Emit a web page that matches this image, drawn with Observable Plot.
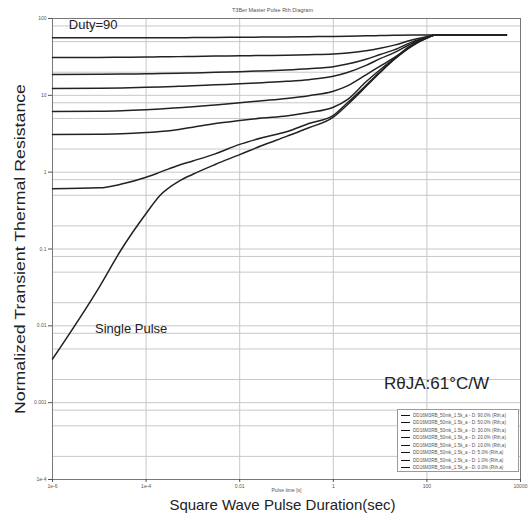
<!DOCTYPE html>
<html>
<head>
<meta charset="utf-8">
<script src="https://cdn.jsdelivr.net/npm/d3@7"></script>
<script src="https://cdn.jsdelivr.net/npm/@observablehq/plot@0.6"></script>
<style>
  body { margin: 0; background: #fff; }
  #chart { position: relative; width: 528px; height: 522px; font-family: "Liberation Sans", Arial, sans-serif; }
  .legend { position: absolute; left: 397px; top: 409px; width: 122px; height: 63px; box-sizing: border-box;
            border: 1px solid #999; background: #fff; padding: 1.5px 3px; }
  .legend .row { display: flex; align-items: center; height: 7.5px; font-size: 4.6px; color: #555; white-space: nowrap; }
  .legend .sw { display: inline-block; width: 9px; height: 0; border-top: 1.5px solid #111; margin-right: 3px; flex: none; }
</style>
</head>
<body>
<div id="chart"></div>
<script>
// Pulse durations (s) at which each curve was sampled
const pulseTime = [1e-6, 1e-5, 3e-5, 1e-4, 2e-4, 5e-4, 1e-3, 3e-3, 1e-2, 3e-2, 0.1, 0.3, 1, 2, 5, 10, 20, 50, 100, 150, 5000];

// Transient thermal resistance (°C/W) per duty cycle
const duty90 = [56, 56, 56, 56, 56.1, 56.3, 56.4, 56.6, 57, 57.3, 57.6, 58, 58.4, 58.8, 59.5, 60, 60.5, 61, 61, 61, 61];
const duty50 = [31, 31.1, 31.3, 31.5, 31.7, 31.9, 32.1, 32.4, 32.7, 33, 33.3, 33.8, 34.5, 35.5, 38, 41, 45, 53, 58, 61, 61];
const duty30 = [18.7, 18.8, 18.9, 19.1, 19.2, 19.4, 19.6, 19.9, 20.3, 20.8, 21.4, 22.2, 23.5, 25.5, 29.5, 34, 39, 50, 57, 61, 61];
const duty20 = [12.3, 12.4, 12.5, 12.7, 12.85, 13.1, 13.3, 13.7, 14.1, 14.6, 15.2, 16.0, 17.7, 19.8, 24.5, 30, 36, 48, 56.5, 61, 61];
const duty10 = [6.15, 6.2, 6.3, 6.5, 6.65, 6.9, 7.1, 7.5, 8.0, 8.5, 9.1, 9.9, 11.3, 13.3, 18.5, 24, 31, 46, 56, 61, 61];
const duty5  = [3.09, 3.12, 3.16, 3.28, 3.38, 3.6, 3.85, 4.3, 4.7, 5.06, 5.4, 5.97, 7.0, 8.8, 15, 21.5, 30, 45, 56, 61, 61];
const duty1  = [0.61, 0.625, 0.7, 0.86, 1.0, 1.23, 1.4, 1.73, 2.3, 2.8, 3.35, 4.3, 5.5, 8.0, 13.5, 20.2, 29.5, 45, 56, 61, 61];
const singlePulse = [0.0037, 0.032, 0.1, 0.29, 0.5, 0.76, 0.94, 1.26, 1.69, 2.22, 2.92, 3.78, 5.2, 7.55, 13.0, 19.8, 29.3, 44.5, 55.5, 61, 61];

const dutyLabels = ["90.0%", "50.0%", "30.0%", "20.0%", "10.0%", "5.0%", "1.0%", "0.0%"];
const seriesValues = [duty90, duty50, duty30, duty20, duty10, duty5, duty1, singlePulse];

// Axis ticks
const xTicks = [1e-6, 1e-4, 1e-2, 1, 100, 1e4];
const xTickLabels = ["1e-6", "1e-4", "0.01", "1", "100", "10000"];
const yTicks = [1e-4, 1e-3, 1e-2, 0.1, 1, 10, 100];
const yTickLabels = ["1e-4", "0.001", "0.01", "0.1", "1", "10", "100"];
const gridMantissa = [1, 2, 5, 8];

const titleText = "T3Ber Master Pulse Rth Diagram";
const xSmallLabel = "Pulse time [s]";
const xLabel = "Square Wave Pulse Duration(sec)";
const yLabel = "Normalized Transient Thermal Resistance";
const deviceTag = "DD16M3RB_50mk_1.5k_a - D:";

// Long-format rows for the line mark
const rows = seriesValues.flatMap((vals, s) =>
  pulseTime.map((t, i) => ({ series: dutyLabels[s], t, z: vals[i] })));

// Horizontal grid levels inside the y domain
const yGrid = yTicks.flatMap(p => gridMantissa.map(m => m * p)).filter(v => v <= 100);

const notes = [
  { text: "Duty=90", t: 7.4e-6, z: 82, size: 13 },
  { text: "Single Pulse", t: 4.8e-5, z: 0.0092, size: 13 },
  { text: "R\u03B8JA:61\u00B0C/W", t: 160, z: 0.00177, size: 17 }
];

const font = "'Liberation Sans', Arial, sans-serif";
const fmtX = d => xTickLabels[xTicks.indexOf(d)];
const fmtY = d => yTickLabels[yTicks.indexOf(d)];

const chart = Plot.plot({
  width: 528,
  height: 522,
  marginTop: 18,
  marginBottom: 43,
  marginLeft: 52,
  marginRight: 8,
  style: { fontFamily: font, background: "#fff", overflow: "visible" },
  x: { type: "log", domain: [1e-6, 1e4] },
  y: { type: "log", domain: [1e-4, 100] },
  marks: [
    Plot.gridY(yGrid, { stroke: "#c8c8c8", strokeOpacity: 1, strokeWidth: 1 }),
    Plot.gridX(xTicks, { stroke: "#c8c8c8", strokeOpacity: 1, strokeWidth: 1 }),
    Plot.frame({ stroke: "#777", strokeWidth: 1 }),
    Plot.axisX(xTicks, { tickFormat: fmtX, tickSize: 3, tickPadding: 2,
                 fontSize: 5, color: "#555", label: null }),
    Plot.axisY(yTicks, { tickFormat: fmtY, tickSize: 4, tickPadding: 2,
                 fontSize: 5, color: "#555", label: null }),
    Plot.line(rows, { x: "t", y: "z", z: "series", stroke: "#222", strokeWidth: 1.5, curve: "monotone-x" }),
    Plot.text([titleText], { frameAnchor: "top", dx: -14, dy: -10, fontSize: 5.5, fill: "#555" }),
    Plot.text([xSmallLabel], { frameAnchor: "bottom", dy: 12, fontSize: 5, fill: "#555" }),
    Plot.text([xLabel], { frameAnchor: "bottom", dx: -4, dy: 30, fontSize: 15, fill: "#222" }),
    Plot.text([yLabel], { frameAnchor: "left", dx: -32, rotate: -90, textAnchor: "middle", fontSize: 15,
                          fill: "#222", className: "ylabel" }),
    Plot.text(notes, { x: "t", y: "z", text: "text", fontSize: d => d.size, fill: "#222", className: "note" })
  ]
});

const host = document.getElementById("chart");
host.appendChild(chart);

// Stretch the vertical title along the axis
d3.select(chart).selectAll("g.ylabel text")
  .attr("textLength", 330).attr("lengthAdjust", "spacingAndGlyphs");

// White panels behind the annotations so grid lines stop at the label
d3.select(chart).selectAll("g.note text").each(function () {
  const b = this.getBBox();
  d3.select(this.parentNode).insert("rect", () => this)
    .attr("x", b.x - 12).attr("y", b.y - 2)
    .attr("width", b.width + 24).attr("height", b.height + 4)
    .attr("fill", "#fff");
});

// Legend box
const legend = document.createElement("div");
legend.className = "legend";
dutyLabels.forEach(lbl => {
  const row = document.createElement("div");
  row.className = "row";
  const sw = document.createElement("span");
  sw.className = "sw";
  row.appendChild(sw);
  row.appendChild(document.createTextNode(`${deviceTag} ${lbl} (Rth,a)`));
  legend.appendChild(row);
});
host.appendChild(legend);
</script>
</body>
</html>
